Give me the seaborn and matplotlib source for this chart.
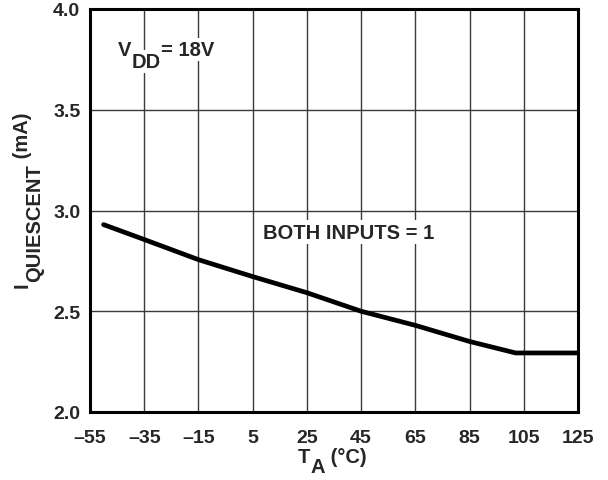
import numpy as np
import pandas as pd
import seaborn as sns
import matplotlib
matplotlib.use('Agg')
import matplotlib.pyplot as plt
from matplotlib.transforms import IdentityTransform

# values
temp_c = [-50, -35, -15, 5, 25, 45, 65, 85, 102, 125]
i_quiescent = [2.93, 2.856, 2.756, 2.672, 2.592, 2.50, 2.43, 2.35, 2.293, 2.293]
x_ticks = [-55, -35, -15, 5, 25, 45, 65, 85, 105, 125]
x_tick_labels = ['\u201355', '\u201335', '\u201315', '5', '25', '45', '65', '85', '105', '125']
y_ticks = [2.0, 2.5, 3.0, 3.5, 4.0]

sns.set_style("white")
plt.rcParams['font.family'] = ['Liberation Sans', 'DejaVu Sans']
plt.rcParams['font.weight'] = 'bold'


def rich_text(fig, x, y, parts, transform, size=14.5, rotation=0, box=False):
    # parts: list of (string, drop in pixels) drawn one after another
    renderer = fig.canvas.get_renderer()
    x0, y0 = transform.transform((x, y))
    cum = 0
    for s, drop in parts:
        t = fig.text(0, 0, s, fontsize=size, fontweight='bold', transform=IdentityTransform(),
                     ha='left', va='baseline', rotation_mode='anchor', zorder=5)
        w = t.get_window_extent(renderer).width
        if box:
            t.set_bbox(dict(facecolor='white', edgecolor='none', pad=1.5))
        if rotation == 0:
            t.set_position((x0 + cum, y0 - drop))
        else:
            t.set_rotation(90)
            t.set_position((x0 + drop, y0 + cum))
        cum += w


df = pd.DataFrame({'T': temp_c, 'I': i_quiescent})

fig = plt.figure(figsize=(6.08, 4.81), dpi=100)
ax = fig.add_axes([90 / 608, 68 / 481, 488 / 608, 403 / 481])
sns.lineplot(data=df, x='T', y='I', ax=ax, color='black', linewidth=3.4, estimator=None, sort=False)

ax.set_xlim(-55, 125)
ax.set_ylim(2.0, 4.0)
ax.set_xticks(x_ticks)
ax.set_xticklabels(x_tick_labels)
ax.set_yticks(y_ticks)
ax.set_yticklabels(['%.1f' % v for v in y_ticks])
ax.tick_params(length=0, labelsize=14)
ax.tick_params(axis='x', pad=12)
ax.tick_params(axis='y', pad=7)
for lab in ax.get_xticklabels() + ax.get_yticklabels():
    lab.set_fontweight('bold')
ax.grid(True, color='#3a3a3a', linewidth=1)
for s in ax.spines.values():
    s.set_linewidth(2.2)
    s.set_color('black')
ax.set_xlabel('')
ax.set_ylabel('')

fig.canvas.draw()
pix = IdentityTransform()
# axis titles, placed in pixel coordinates (origin bottom-left)
rich_text(fig, 298, 481 - 463, [('T', 0), ('A', 10), (' (\u00b0C)', 0)], pix)
rich_text(fig, 28, 481 - 288, [('I', 0), ('QUIESCENT', 12), (' (mA)', 0)], pix, rotation=90)

# annotations in data coordinates, white behind them like the original
rich_text(fig, -44.7, 3.771, [('V', 0), ('DD', 12), ('= 18V', 0)], ax.transData, box=True)
rich_text(fig, 8.8, 2.866, [('BOTH INPUTS = 1', 0)], ax.transData, box=True)

fig.savefig('out.png', dpi=100)
